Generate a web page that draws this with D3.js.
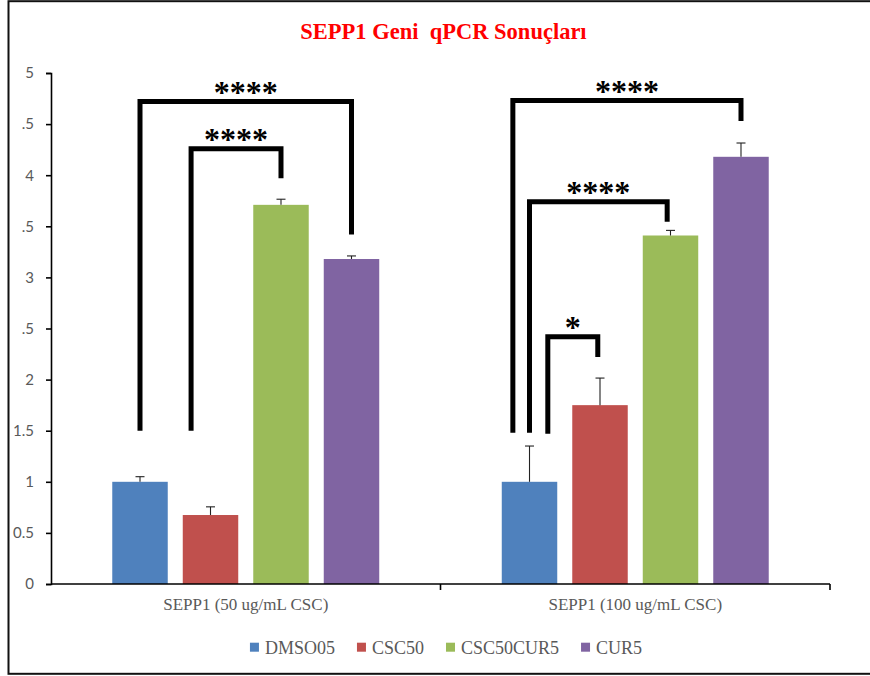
<!DOCTYPE html>
<html>
<head>
<meta charset="utf-8">
<script src="https://cdn.jsdelivr.net/npm/d3@7"></script>
<style>
  html, body { margin: 0; padding: 0; background: #fff; }
  svg { display: block; }
</style>
</head>
<body>
<svg id="chart" width="870" height="676"></svg>
<script>
// ---- data ----
const categories = ["SEPP1 (50 ug/mL CSC)", "SEPP1 (100 ug/mL CSC)"];
const seriesNames = ["DMSO05", "CSC50", "CSC50CUR5", "CUR5"];
const seriesColors = ["#4F81BD", "#C0504D", "#9BBB59", "#8064A2"];

const DMSO05 = [1.00, 1.00];
const CSC50 = [0.675, 1.75];
const CSC50CUR5 = [3.71, 3.41];
const CUR5 = [3.18, 4.18];

const DMSO05_err = [0.05, 0.35];
const CSC50_err = [0.08, 0.265];
const CSC50CUR5_err = [0.055, 0.05];
const CUR5_err = [0.03, 0.135];

const yTicks = [0, 0.5, 1, 1.5, 2, 2.5, 3, 3.5, 4, 4.5, 5];
const yTickLabels = ["0", "0.5", "1", "1.5", "2", ".5", "3", ".5", "4", ".5", "5"];

// significance brackets: group index, series from/to, bracket level and foot levels (data units)
const brackets = [
  { group: 0, from: 0, to: 3, top: 4.72, fromFoot: 1.5, toFoot: 3.42, label: "****", fromShift: 0, toShift: 0 },
  { group: 0, from: 1, to: 2, top: 4.26, fromFoot: 1.5, toFoot: 3.97, label: "****", fromShift: -0.35, toShift: 0 },
  { group: 1, from: 0, to: 3, top: 4.73, fromFoot: 1.48, toFoot: 4.53, label: "****", fromShift: -0.3, toShift: 0 },
  { group: 1, from: 0, to: 2, top: 3.74, fromFoot: 1.48, toFoot: 3.545, label: "****", fromShift: 0, toShift: -0.06 },
  { group: 1, from: 0, to: 1, top: 2.42, fromFoot: 1.47, toFoot: 2.22, label: "*", fromShift: 0.33, toShift: -0.04 }
];

const seriesValues = [DMSO05, CSC50, CSC50CUR5, CUR5];
const seriesErrors = [DMSO05_err, CSC50_err, CSC50CUR5_err, CUR5_err];

// ---- layout ----
const svg = d3.select("#chart");
const plot = { left: 51, right: 830, top: 73, bottom: 584 };

const x0 = d3.scaleBand().domain(categories).range([plot.left, plot.right]).padding(0);
const x1 = d3.scaleBand().domain(seriesNames).range([0, x0.bandwidth()])
  .paddingInner(0.213).paddingOuter(0.869);
const y = d3.scaleLinear().domain([0, 5]).range([plot.bottom, plot.top]);

const barCenter = (g, s) => x0(categories[g]) + x1(seriesNames[s]) + x1.bandwidth() / 2;

// outer frame
svg.append("rect")
  .attr("x", 8.5).attr("y", 1.2).attr("width", 900).attr("height", 672.6)
  .attr("fill", "none").attr("stroke", "#111").attr("stroke-width", 2);

// title
svg.append("text")
  .attr("x", 443.5).attr("y", 38.5)
  .attr("text-anchor", "middle")
  .style("white-space", "pre")
  .attr("font-family", "'Liberation Serif', 'Times New Roman', serif")
  .attr("font-weight", "bold").attr("font-size", 22.5)
  .attr("fill", "#FF0000")
  .text("SEPP1 Geni  qPCR Sonuçları");

// bars
const rows = [];
categories.forEach((c, g) => seriesNames.forEach((s, si) => {
  rows.push({ c, s, si, g, v: seriesValues[si][g], e: seriesErrors[si][g] });
}));

const groups = svg.append("g");
groups.selectAll("rect.bar").data(rows).join("rect")
  .attr("class", "bar")
  .attr("x", d => x0(d.c) + x1(d.s))
  .attr("y", d => y(d.v))
  .attr("width", x1.bandwidth())
  .attr("height", d => y(0) - y(d.v))
  .attr("fill", d => seriesColors[d.si]);

// error bars (upper only)
const err = svg.append("g").attr("stroke", "#222").attr("stroke-width", 1.1);
err.selectAll("line.stem").data(rows).join("line")
  .attr("x1", d => barCenter(d.g, d.si)).attr("x2", d => barCenter(d.g, d.si))
  .attr("y1", d => y(d.v)).attr("y2", d => y(d.v + d.e));
err.selectAll("line.cap").data(rows).join("line")
  .attr("x1", d => barCenter(d.g, d.si) - 4.5).attr("x2", d => barCenter(d.g, d.si) + 4.5)
  .attr("y1", d => y(d.v + d.e)).attr("y2", d => y(d.v + d.e));

// y axis
const yAxis = d3.axisLeft(y).tickValues(yTicks).tickSize(5).tickPadding(12)
  .tickFormat((d, i) => yTickLabels[i]);
const gy = svg.append("g").attr("transform", `translate(${plot.left},0)`).call(yAxis);
gy.select(".domain").attr("stroke", "#000").attr("stroke-width", 1.6);
gy.selectAll(".tick line").attr("stroke", "#000").attr("stroke-width", 1.6);
gy.selectAll(".tick text")
  .attr("font-family", "Lato, 'Open Sans', sans-serif")
  .attr("font-size", 15).attr("fill", "#595959");

// x axis
const xAxis = d3.axisBottom(x0).tickSize(0).tickPadding(0).tickFormat("");
const gx = svg.append("g").attr("transform", `translate(0,${plot.bottom})`).call(xAxis);
gx.select(".domain").remove();
gx.append("line").attr("x1", plot.left).attr("x2", plot.right)
  .attr("stroke", "#000").attr("stroke-width", 1.6);
// category boundary ticks
const bounds = [x0(categories[1]), plot.right];
gx.selectAll("line.bound").data(bounds).join("line")
  .attr("class", "bound")
  .attr("x1", d => d).attr("x2", d => d).attr("y1", 0).attr("y2", 6)
  .attr("stroke", "#000").attr("stroke-width", 1.6);
// category labels
gx.selectAll("text.cat").data(categories).join("text")
  .attr("class", "cat")
  .attr("x", d => x0(d) + x0.bandwidth() / 2)
  .attr("y", 26)
  .attr("text-anchor", "middle")
  .attr("font-family", "'Liberation Serif', 'Times New Roman', serif")
  .attr("font-size", 17).attr("fill", "#595959")
  .text(d => d);

// significance brackets
const bw = x1.bandwidth();
const br = svg.append("g");
brackets.forEach(b => {
  const xa = barCenter(b.group, b.from) + b.fromShift * bw;
  const xb = barCenter(b.group, b.to) + b.toShift * bw;
  br.append("path")
    .attr("d", `M${xa},${y(b.fromFoot)}V${y(b.top)}H${xb}V${y(b.toFoot)}`)
    .attr("fill", "none").attr("stroke", "#000").attr("stroke-width", 5)
    .attr("stroke-linejoin", "miter").attr("stroke-linecap", "butt");
  br.append("text")
    .attr("x", (xa + xb) / 2).attr("y", y(b.top) + 1)
    .attr("text-anchor", "middle")
    .attr("font-family", "'Liberation Serif', 'Times New Roman', serif")
    .attr("font-weight", "bold").attr("font-size", 32)
    .attr("fill", "#000")
    .text(b.label);
});

// legend
const legend = svg.append("g");
const items = legend.selectAll("g.item").data(seriesNames).join("g").attr("class", "item");
items.append("rect").attr("width", 9).attr("height", 9).attr("y", 642.7)
  .attr("fill", (d, i) => seriesColors[i]);
items.append("text").attr("x", 15).attr("y", 653.5)
  .attr("font-family", "'Liberation Serif', 'Times New Roman', serif")
  .attr("font-size", 18).attr("fill", "#595959")
  .text(d => d);
let cursor = 0;
const offs = [];
items.each(function () {
  const w = d3.select(this).select("text").node().getComputedTextLength();
  offs.push(cursor);
  cursor += 15 + w + 22;
});
const total = cursor - 22;
const start = 446 - total / 2;
items.attr("transform", (d, i) => `translate(${start + offs[i]},0)`);
</script>
</body>
</html>
